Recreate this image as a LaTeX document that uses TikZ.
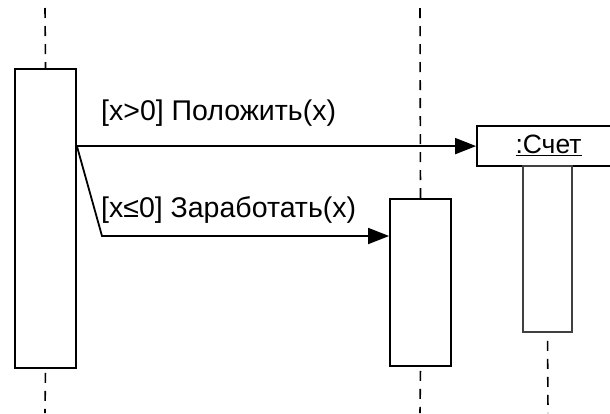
\documentclass[tikz,border=0pt]{standalone}
\usepackage{fontspec}
\setmainfont{Liberation Sans}
\usetikzlibrary{arrows.meta,calc}
\begin{document}
\begin{tikzpicture}[x=1pt,y=-1pt,
  actbox/.style={draw, line width=1.8pt, minimum width=61pt, inner sep=0pt, fill=white},
  objbox/.style={draw, line width=1.8pt, inner sep=0pt, fill=white},
  lifeline/.style={line width=1.6pt, dash pattern=on 10pt off 8pt},
  msg/.style={line width=1.8pt, -{Triangle[length=21pt,width=16pt]}},
  lbl/.style={font=\fontsize{28.5}{32}\selectfont, anchor=west, inner sep=0pt}
]
\useasboundingbox (0,0) rectangle (610,413);
\clip (0,0) rectangle (610,413);
\fill[white] (0,0) rectangle (610,413);

% activation boxes and object
\node[actbox, minimum height=299pt] (leftbox) at (45.5,218.5) {};
\node[actbox, minimum height=167pt] (midbox) at (420.5,282.5) {};
\node[objbox, minimum width=143pt, minimum height=40pt] (obj) at (548.5,146) {};
\node[font=\fontsize{26.5}{30}\selectfont, inner sep=0pt] (objlbl) at (548.5,145) {\underline{:Счет}};
\node[draw, line width=1.5pt, draw=black!75, minimum width=49pt, minimum height=166pt, inner sep=0pt] (actbox) at (547.5,249) {};

% lifelines
\coordinate (ltop) at (45,8);
\coordinate (lbot) at (45,413);
\coordinate (mtop) at (420,8);
\coordinate (mbot) at (420,413);
\coordinate (rbot) at (548,413);
\draw[lifeline] (ltop) -- (leftbox.north);
\draw[lifeline, dash phase=-4pt] (leftbox.south) -- (lbot);
\draw[lifeline] (mtop) -- (midbox.north);
\draw[lifeline, dash phase=-4pt] (midbox.south) -- (mbot);
\draw[lifeline, dash phase=-8pt] (actbox.south) -- (rbot);

% messages
\coordinate (start) at ($(leftbox.north east)+(0,78)$);
\coordinate (bend) at (102,236);
\draw[msg] (start) -- (start -| obj.west);
\draw[msg] (start) -- (bend) -- (bend -| midbox.west);

% labels
\node[lbl] (l1) at (101,113) {[x>0] Положить(x)};
\node[lbl] (l2) at (101,210) {[x≤0] Заработать(x)};
\end{tikzpicture}
\end{document}
